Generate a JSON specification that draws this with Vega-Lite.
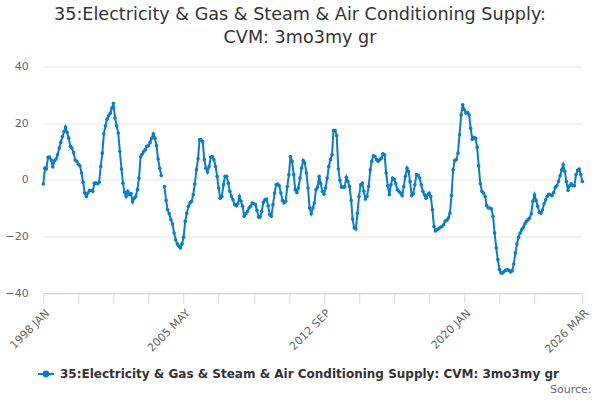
{
  "$schema": "https://vega.github.io/schema/vega-lite/v6.json",
  "width": 539,
  "height": 226.5,
  "autosize": "none",
  "padding": {"left": 43.3, "top": 66.5, "right": 17.7, "bottom": 107},
  "title": {
    "text": ["35:Electricity & Gas & Steam & Air Conditioning Supply:", "CVM: 3mo3my gr"],
    "font": "DejaVu Sans",
    "fontSize": 17.6,
    "fontWeight": "normal",
    "color": "#333333",
    "anchor": "middle",
    "lineHeight": 22.5,
    "dx": -12.8,
    "offset": 14
  },
  "data": {
    "format": {"parse": {"d": "utc:'%Y-%m'"}},
    "values": [
      {"d":"1998-01","v":-1.5},{"d":"1998-02","v":4.1},{"d":"1998-03","v":3.8},{"d":"1998-04","v":7.9},{"d":"1998-05","v":8.0},{"d":"1998-06","v":7.0},{"d":"1998-07","v":4.5},{"d":"1998-08","v":6.7},{"d":"1998-09","v":7.3},{"d":"1998-10","v":8.8},{"d":"1998-11","v":11.2},{"d":"1998-12","v":13.2},
      {"d":"1999-01","v":15.3},{"d":"1999-02","v":17.0},{"d":"1999-03","v":18.6},{"d":"1999-04","v":16.7},{"d":"1999-05","v":14.7},{"d":"1999-06","v":11.8},{"d":"1999-07","v":11.2},{"d":"1999-08","v":9.6},{"d":"1999-09","v":7.0},{"d":"1999-10","v":6.5},{"d":"1999-11","v":5.5},{"d":"1999-12","v":4.9},
      {"d":"2000-01","v":2.4},{"d":"2000-02","v":-0.9},{"d":"2000-03","v":-4.7},{"d":"2000-04","v":-5.9},{"d":"2000-05","v":-4.7},{"d":"2000-06","v":-3.8},{"d":"2000-07","v":-3.8},{"d":"2000-08","v":-4.1},{"d":"2000-09","v":-1.2},{"d":"2000-10","v":-1.2},{"d":"2000-11","v":-1.4},{"d":"2000-12","v":-0.9},
      {"d":"2001-01","v":4.7},{"d":"2001-02","v":9.4},{"d":"2001-03","v":16.2},{"d":"2001-04","v":19.0},{"d":"2001-05","v":21.4},{"d":"2001-06","v":22.6},{"d":"2001-07","v":23.5},{"d":"2001-08","v":25.3},{"d":"2001-09","v":27.0},{"d":"2001-10","v":21.8},{"d":"2001-11","v":19.0},{"d":"2001-12","v":16.5},
      {"d":"2002-01","v":10.0},{"d":"2002-02","v":3.8},{"d":"2002-03","v":-1.2},{"d":"2002-04","v":-4.4},{"d":"2002-05","v":-5.9},{"d":"2002-06","v":-4.1},{"d":"2002-07","v":-5.3},{"d":"2002-08","v":-4.9},{"d":"2002-09","v":-7.8},{"d":"2002-10","v":-6.5},{"d":"2002-11","v":-5.9},{"d":"2002-12","v":-3.5},
      {"d":"2003-01","v":0.6},{"d":"2003-02","v":8.0},{"d":"2003-03","v":9.0},{"d":"2003-04","v":10.0},{"d":"2003-05","v":10.6},{"d":"2003-06","v":11.8},{"d":"2003-07","v":12.0},{"d":"2003-08","v":13.2},{"d":"2003-09","v":14.7},{"d":"2003-10","v":16.2},{"d":"2003-11","v":14.7},{"d":"2003-12","v":12.0},
      {"d":"2004-01","v":7.3},{"d":"2004-02","v":4.1},{"d":"2004-03","v":1.5},{"d":"2004-04","v":null},{"d":"2004-05","v":-2.4},{"d":"2004-06","v":-7.3},{"d":"2004-07","v":-10.6},{"d":"2004-08","v":-12.0},{"d":"2004-09","v":-14.1},{"d":"2004-10","v":-15.6},{"d":"2004-11","v":-18.8},{"d":"2004-12","v":-21.2},
      {"d":"2005-01","v":-22.7},{"d":"2005-02","v":-23.5},{"d":"2005-03","v":-24.1},{"d":"2005-04","v":-22.7},{"d":"2005-05","v":-20.3},{"d":"2005-06","v":-14.7},{"d":"2005-07","v":-11.8},{"d":"2005-08","v":-9.4},{"d":"2005-09","v":-8.2},{"d":"2005-10","v":-7.6},{"d":"2005-11","v":-5.3},{"d":"2005-12","v":-1.5},
      {"d":"2006-01","v":3.5},{"d":"2006-02","v":7.4},{"d":"2006-03","v":14.1},{"d":"2006-04","v":14.1},{"d":"2006-05","v":13.5},{"d":"2006-06","v":7.1},{"d":"2006-07","v":4.1},{"d":"2006-08","v":2.7},{"d":"2006-09","v":4.7},{"d":"2006-10","v":8.0},{"d":"2006-11","v":8.2},{"d":"2006-12","v":7.1},
      {"d":"2007-01","v":4.7},{"d":"2007-02","v":1.2},{"d":"2007-03","v":-2.9},{"d":"2007-04","v":-6.5},{"d":"2007-05","v":-5.9},{"d":"2007-06","v":-1.8},{"d":"2007-07","v":1.2},{"d":"2007-08","v":1.2},{"d":"2007-09","v":-1.2},{"d":"2007-10","v":-4.1},{"d":"2007-11","v":-5.9},{"d":"2007-12","v":-7.1},
      {"d":"2008-01","v":-8.8},{"d":"2008-02","v":-9.2},{"d":"2008-03","v":-8.5},{"d":"2008-04","v":-5.9},{"d":"2008-05","v":-7.6},{"d":"2008-06","v":-9.4},{"d":"2008-07","v":-12.9},{"d":"2008-08","v":-12.0},{"d":"2008-09","v":-11.2},{"d":"2008-10","v":-10.0},{"d":"2008-11","v":-9.4},{"d":"2008-12","v":-8.2},
      {"d":"2009-01","v":-8.5},{"d":"2009-02","v":-8.8},{"d":"2009-03","v":-10.8},{"d":"2009-04","v":-13.2},{"d":"2009-05","v":-13.2},{"d":"2009-06","v":-11.2},{"d":"2009-07","v":-8.0},{"d":"2009-08","v":-7.1},{"d":"2009-09","v":-6.8},{"d":"2009-10","v":-9.2},{"d":"2009-11","v":-12.3},{"d":"2009-12","v":-12.9},
      {"d":"2010-01","v":-8.8},{"d":"2010-02","v":-4.7},{"d":"2010-03","v":-1.8},{"d":"2010-04","v":-1.5},{"d":"2010-05","v":-2.1},{"d":"2010-06","v":-4.7},{"d":"2010-07","v":-7.3},{"d":"2010-08","v":-8.2},{"d":"2010-09","v":-7.6},{"d":"2010-10","v":-2.4},{"d":"2010-11","v":1.8},{"d":"2010-12","v":8.2},
      {"d":"2011-01","v":6.5},{"d":"2011-02","v":1.8},{"d":"2011-03","v":-3.5},{"d":"2011-04","v":-4.5},{"d":"2011-05","v":-2.9},{"d":"2011-06","v":0.6},{"d":"2011-07","v":4.1},{"d":"2011-08","v":6.8},{"d":"2011-09","v":5.9},{"d":"2011-10","v":2.4},{"d":"2011-11","v":-2.9},{"d":"2011-12","v":-10.0},
      {"d":"2012-01","v":-12.0},{"d":"2012-02","v":-10.0},{"d":"2012-03","v":-8.2},{"d":"2012-04","v":-3.5},{"d":"2012-05","v":-2.6},{"d":"2012-06","v":1.2},{"d":"2012-07","v":-1.4},{"d":"2012-08","v":-4.1},{"d":"2012-09","v":-5.1},{"d":"2012-10","v":-2.9},{"d":"2012-11","v":0.6},{"d":"2012-12","v":4.7},
      {"d":"2013-01","v":7.1},{"d":"2013-02","v":8.8},{"d":"2013-03","v":17.4},{"d":"2013-04","v":17.4},{"d":"2013-05","v":15.5},{"d":"2013-06","v":3.8},{"d":"2013-07","v":-0.2},{"d":"2013-08","v":-2.6},{"d":"2013-09","v":-2.6},{"d":"2013-10","v":-2.6},{"d":"2013-11","v":0.9},{"d":"2013-12","v":-0.6},
      {"d":"2014-01","v":-2.4},{"d":"2014-02","v":-7.3},{"d":"2014-03","v":-13.9},{"d":"2014-04","v":-17.0},{"d":"2014-05","v":-17.4},{"d":"2014-06","v":-11.8},{"d":"2014-07","v":-5.9},{"d":"2014-08","v":-1.8},{"d":"2014-09","v":-1.2},{"d":"2014-10","v":-4.1},{"d":"2014-11","v":-6.8},{"d":"2014-12","v":-5.9},
      {"d":"2015-01","v":-2.4},{"d":"2015-02","v":3.5},{"d":"2015-03","v":6.5},{"d":"2015-04","v":8.5},{"d":"2015-05","v":8.2},{"d":"2015-06","v":7.1},{"d":"2015-07","v":6.5},{"d":"2015-08","v":7.1},{"d":"2015-09","v":7.6},{"d":"2015-10","v":9.2},{"d":"2015-11","v":8.8},{"d":"2015-12","v":2.4},
      {"d":"2016-01","v":-2.1},{"d":"2016-02","v":-5.3},{"d":"2016-03","v":-1.8},{"d":"2016-04","v":0.6},{"d":"2016-05","v":0.2},{"d":"2016-06","v":-1.4},{"d":"2016-07","v":-3.5},{"d":"2016-08","v":-4.1},{"d":"2016-09","v":-4.7},{"d":"2016-10","v":-5.6},{"d":"2016-11","v":-2.4},{"d":"2016-12","v":1.2},
      {"d":"2017-01","v":4.1},{"d":"2017-02","v":2.9},{"d":"2017-03","v":-0.6},{"d":"2017-04","v":-5.6},{"d":"2017-05","v":-4.9},{"d":"2017-06","v":-1.8},{"d":"2017-07","v":1.8},{"d":"2017-08","v":1.6},{"d":"2017-09","v":0.6},{"d":"2017-10","v":-1.8},{"d":"2017-11","v":-4.1},{"d":"2017-12","v":-5.3},
      {"d":"2018-01","v":-6.5},{"d":"2018-02","v":-5.3},{"d":"2018-03","v":-4.7},{"d":"2018-04","v":-5.9},{"d":"2018-05","v":-10.6},{"d":"2018-06","v":-16.5},{"d":"2018-07","v":-18.1},{"d":"2018-08","v":-17.6},{"d":"2018-09","v":-17.3},{"d":"2018-10","v":-16.8},{"d":"2018-11","v":-16.5},{"d":"2018-12","v":-15.9},
      {"d":"2019-01","v":-14.7},{"d":"2019-02","v":-14.3},{"d":"2019-03","v":-13.5},{"d":"2019-04","v":-11.8},{"d":"2019-05","v":-5.6},{"d":"2019-06","v":3.5},{"d":"2019-07","v":6.8},{"d":"2019-08","v":7.1},{"d":"2019-09","v":9.4},{"d":"2019-10","v":15.9},{"d":"2019-11","v":22.9},{"d":"2019-12","v":26.5},
      {"d":"2020-01","v":24.7},{"d":"2020-02","v":23.5},{"d":"2020-03","v":23.8},{"d":"2020-04","v":22.9},{"d":"2020-05","v":18.2},{"d":"2020-06","v":14.3},{"d":"2020-07","v":15.0},{"d":"2020-08","v":14.7},{"d":"2020-09","v":11.5},{"d":"2020-10","v":4.9},{"d":"2020-11","v":-1.4},{"d":"2020-12","v":-4.1},
      {"d":"2021-01","v":-4.7},{"d":"2021-02","v":-5.9},{"d":"2021-03","v":-9.1},{"d":"2021-04","v":-10.0},{"d":"2021-05","v":-10.0},{"d":"2021-06","v":-10.3},{"d":"2021-07","v":-12.9},{"d":"2021-08","v":-18.8},{"d":"2021-09","v":-24.1},{"d":"2021-10","v":-28.2},{"d":"2021-11","v":-31.7},{"d":"2021-12","v":-32.9},
      {"d":"2022-01","v":-32.9},{"d":"2022-02","v":-32.3},{"d":"2022-03","v":-32.0},{"d":"2022-04","v":-31.8},{"d":"2022-05","v":-32.0},{"d":"2022-06","v":-32.6},{"d":"2022-07","v":-32.2},{"d":"2022-08","v":-29.8},{"d":"2022-09","v":-25.9},{"d":"2022-10","v":-22.7},{"d":"2022-11","v":-20.3},{"d":"2022-12","v":-18.8},
      {"d":"2023-01","v":-17.6},{"d":"2023-02","v":-16.8},{"d":"2023-03","v":-15.6},{"d":"2023-04","v":-14.7},{"d":"2023-05","v":-14.1},{"d":"2023-06","v":-13.5},{"d":"2023-07","v":-12.0},{"d":"2023-08","v":-7.6},{"d":"2023-09","v":-5.3},{"d":"2023-10","v":-7.3},{"d":"2023-11","v":-9.4},{"d":"2023-12","v":-11.5},
      {"d":"2024-01","v":-11.8},{"d":"2024-02","v":-10.6},{"d":"2024-03","v":-8.5},{"d":"2024-04","v":-7.1},{"d":"2024-05","v":-5.9},{"d":"2024-06","v":-5.1},{"d":"2024-07","v":-5.3},{"d":"2024-08","v":-5.6},{"d":"2024-09","v":-4.5},{"d":"2024-10","v":-2.7},{"d":"2024-11","v":-2.1},{"d":"2024-12","v":-0.6},
      {"d":"2025-01","v":1.4},{"d":"2025-02","v":3.5},{"d":"2025-03","v":5.3},{"d":"2025-04","v":2.9},{"d":"2025-05","v":-0.6},{"d":"2025-06","v":-3.8},{"d":"2025-07","v":-2.1},{"d":"2025-08","v":-1.4},{"d":"2025-09","v":-2.1},{"d":"2025-10","v":-2.1},{"d":"2025-11","v":1.8},{"d":"2025-12","v":3.3},
      {"d":"2026-01","v":3.8},{"d":"2026-02","v":1.8},{"d":"2026-03","v":-0.6}
    ]
  },
  "mark": {
    "type": "line",
    "strokeWidth": 2,
    "invalid": "break-paths-show-domains",
    "point": {"filled": true, "size": 13}
  },
  "encoding": {
    "x": {
      "field": "d",
      "type": "temporal",
      "scale": {
        "type": "utc",
        "nice": false,
        "domain": [
          {"year": 1998, "month": 1, "date": 1, "utc": true},
          {"year": 2026, "month": 3, "date": 1, "utc": true}
        ]
      },
      "axis": {
        "title": "Source:",
        "titleAnchor": "end",
        "titleAlign": "right",
        "titleBaseline": "alphabetic",
        "titleX": 547.7,
        "titleY": 99,
        "titleFont": "DejaVu Sans",
        "titleFontSize": 11,
        "titleFontWeight": "normal",
        "titleColor": "#666666",
        "values": [
          {"year": 1998, "month": 1, "date": 1, "utc": true},
          {"year": 1999, "month": 11, "date": 1, "utc": true},
          {"year": 2001, "month": 9, "date": 1, "utc": true},
          {"year": 2003, "month": 7, "date": 1, "utc": true},
          {"year": 2005, "month": 5, "date": 1, "utc": true},
          {"year": 2007, "month": 3, "date": 1, "utc": true},
          {"year": 2009, "month": 1, "date": 1, "utc": true},
          {"year": 2010, "month": 11, "date": 1, "utc": true},
          {"year": 2012, "month": 9, "date": 1, "utc": true},
          {"year": 2014, "month": 7, "date": 1, "utc": true},
          {"year": 2016, "month": 5, "date": 1, "utc": true},
          {"year": 2018, "month": 3, "date": 1, "utc": true},
          {"year": 2020, "month": 1, "date": 1, "utc": true},
          {"year": 2021, "month": 11, "date": 1, "utc": true},
          {"year": 2023, "month": 9, "date": 1, "utc": true},
          {"year": 2026, "month": 3, "date": 1, "utc": true}
        ],
        "labelExpr": "indexof(['1998 Jan','2005 May','2012 Sep','2020 Jan','2026 Mar'], utcFormat(datum.value, '%Y %b')) >= 0 ? upper(utcFormat(datum.value, '%Y %b')) : ''",
        "labelAngle": -45,
        "labelAlign": "right",
        "labelBaseline": "top",
        "labelPadding": 4,
        "labelFlush": false,
        "labelOverlap": false,
        "labelBound": false,
        "labelFont": "DejaVu Sans",
        "labelFontSize": 11,
        "labelColor": "#666666",
        "grid": false,
        "domainColor": "#ccd6eb",
        "tickColor": "#ccd6eb",
        "tickSize": 10
      }
    },
    "y": {
      "field": "v",
      "type": "quantitative",
      "scale": {"domain": [-40, 40], "nice": false, "zero": false},
      "axis": {
        "title": null,
        "values": [-40, -20, 0, 20, 40],
        "domain": false,
        "ticks": false,
        "gridColor": "#e6e6e6",
        "labelPadding": 15,
        "labelFont": "DejaVu Sans",
        "labelFontSize": 11,
        "labelColor": "#666666"
      }
    },
    "color": {
      "datum": "35:Electricity & Gas & Steam & Air Conditioning Supply: CVM: 3mo3my gr",
      "type": "nominal",
      "scale": {"range": ["#0b7dc3"]},
      "legend": {
        "title": null,
        "orient": "none",
        "legendX": -6.3,
        "legendY": 298.5,
        "padding": 0,
        "symbolType": "M-1,0L1,0M-0.3,0A0.3,0.3,0,1,0,0.3,0A0.3,0.3,0,1,0,-0.3,0Z",
        "symbolSize": 256,
        "symbolStrokeWidth": 2,
        "symbolFillColor": "#0b7dc3",
        "symbolStrokeColor": "#0b7dc3",
        "labelOffset": 5,
        "labelFont": "DejaVu Sans",
        "labelFontSize": 12,
        "labelFontWeight": "bold",
        "labelColor": "#333333",
        "labelLimit": 1000
      }
    }
  },
  "config": {
    "view": {"stroke": null},
    "font": "DejaVu Sans"
  }
}
